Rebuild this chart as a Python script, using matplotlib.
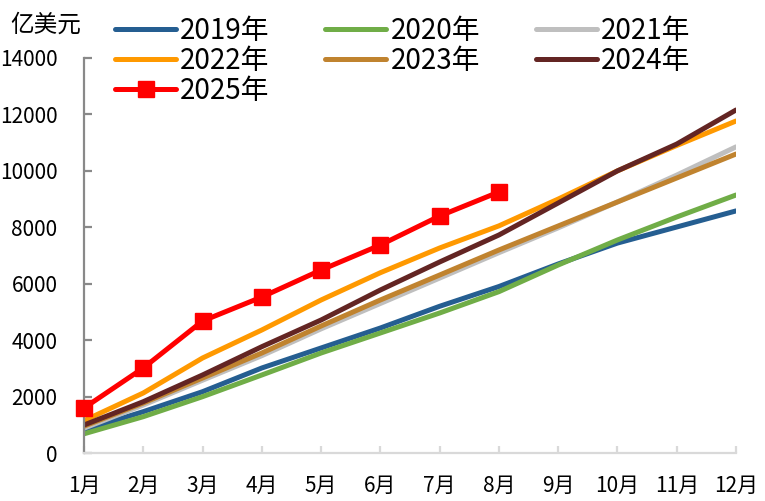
import matplotlib
matplotlib.use("Agg")
from matplotlib import pyplot as plt

plt.rcParams['font.family'] = ['Noto Sans CJK SC', 'DejaVu Sans']

# months and cumulative values (亿美元)
months = ['1月', '2月', '3月', '4月', '5月', '6月', '7月', '8月', '9月', '10月', '11月', '12月']

y2019 = [815, 1465, 2173, 3013, 3722, 4430, 5200, 5900, 6700, 7440, 8010, 8580]
y2020 = [680, 1287, 1996, 2765, 3544, 4253, 4962, 5718, 6663, 7550, 8365, 9144]
y2021 = [880, 1700, 2580, 3450, 4400, 5300, 6200, 7100, 7980, 8900, 9850, 10850]
y2022 = [1145, 2127, 3367, 4360, 5423, 6390, 7266, 8050, 9000, 10000, 10900, 11767]
y2023 = [950, 1772, 2658, 3544, 4501, 5423, 6308, 7195, 8046, 8897, 9747, 10597]
y2024 = [992, 1818, 2765, 3768, 4714, 5777, 6770, 7727, 8861, 10000, 10950, 12157]
y2025 = [1595, 3013, 4678, 5529, 6486, 7372, 8400, 9251]

series = [
    ('2019年', y2019, '#255E91'),
    ('2020年', y2020, '#70AD47'),
    ('2021年', y2021, '#BFBFBF'),
    ('2022年', y2022, '#FF9900'),
    ('2023年', y2023, '#C0832F'),
    ('2024年', y2024, '#632523'),
]

fig = plt.figure(figsize=(7.65, 5.01), dpi=100)
ax = fig.add_axes([84/765, 48/501, 652/765, 395/501])

x = list(range(len(months)))
lines = {}
for name, vals, col in series:
    lines[name], = ax.plot(x[:len(vals)], vals, color=col, lw=3.6, label=name,
                           solid_capstyle='round')
lines['2025年'], = ax.plot(x[:len(y2025)], y2025, color='#FF0000', lw=3.6, marker='s',
                          markersize=11, label='2025年', solid_capstyle='round',
                          clip_on=False, zorder=5)

ax.set_xlim(0, 11)
ax.set_ylim(0, 14000)
ax.set_yticks(range(0, 14001, 2000))
ax.set_xticks(x)
ax.set_xticklabels(months)

for s in ['top', 'right']:
    ax.spines[s].set_visible(False)
ax.spines['left'].set_color('#898989')
ax.spines['left'].set_linewidth(1.6)
ax.spines['bottom'].set_color('#D9D9D9')
ax.spines['bottom'].set_linewidth(1.6)
ax.tick_params(axis='y', direction='in', length=6, width=1.6, color='#898989',
               labelsize=15, pad=19)
ax.tick_params(axis='x', direction='in', length=5, width=1.6, color='#D9D9D9',
               labelsize=15, pad=16)

fig.text(10/765, 1 - 25/501, '亿美元', fontsize=17, va='center', ha='left')

# legend filled column by column -> reorder so rows read 2019,2020,2021 / 2022,...
order = ['2019年', '2022年', '2025年', '2020年', '2023年', '2021年', '2024年']
fig.legend([lines[k] for k in order], order, loc='upper left',
           bbox_to_anchor=(115/765, 1 - 16/501), ncol=3, frameon=False,
           fontsize=20, handlelength=2.2, handletextpad=0.15, columnspacing=2.0,
           labelspacing=0.0, borderpad=0, borderaxespad=0)

fig.savefig('out.png', dpi=100)
